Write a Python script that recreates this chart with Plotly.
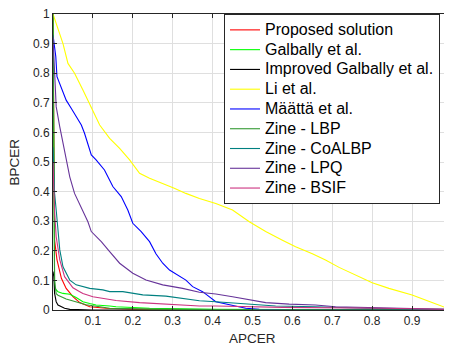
import plotly.graph_objects as go

# ---------------- data ----------------
names = ["Proposed solution", "Galbally et al.", "Improved Galbally et al.", "Li et al.",
         "Määttä et al.", "Zine - LBP", "Zine - CoALBP", "Zine - LPQ", "Zine - BSIF"]

prop_x = [0, 0.001, 0.002, 0.004, 0.01, 0.021, 0.033, 0.05, 0.067, 0.092, 0.133, 0.2, 0.4, 1.0]
prop_y = [1, 0.75, 0.4, 0.236, 0.169, 0.107, 0.073, 0.045, 0.025, 0.011, 0.006, 0.003, 0.001, 0]

galb_x = [0, 0.001, 0.002, 0.004, 0.008, 0.0125, 0.025, 0.042, 0.058, 0.075, 0.092, 0.108, 0.142, 0.158, 0.242, 0.4, 1.0]
galb_y = [1, 0.7, 0.3, 0.079, 0.068, 0.062, 0.056, 0.053, 0.042, 0.028, 0.022, 0.017, 0.0135, 0.011, 0.006, 0.002, 0]

impr_x = [0, 0.001, 0.002, 0.004, 0.008, 0.0125, 0.017, 0.029, 0.042, 0.1, 1.0]
impr_y = [0.13, 0.12, 0.1125, 0.056, 0.028, 0.017, 0.0135, 0.006, 0.002, 0, 0]

li_x = [0, 0.025, 0.0375, 0.054, 0.075, 0.096, 0.117, 0.142, 0.167, 0.192, 0.217, 0.242, 0.275, 0.304,
        0.333, 0.367, 0.408, 0.45, 0.492, 0.533, 0.575, 0.608, 0.65, 0.683, 0.717, 0.758, 0.8, 0.842,
        0.9, 0.95, 1.0]
li_y = [1, 0.90, 0.833, 0.80, 0.743, 0.681, 0.625, 0.58, 0.546, 0.507, 0.462, 0.445, 0.428, 0.411,
        0.394, 0.377, 0.36, 0.338, 0.298, 0.265, 0.236, 0.214, 0.19, 0.169, 0.144, 0.118, 0.092, 0.073,
        0.051, 0.025, 0.0]

maat_x = [0, 0.002, 0.007, 0.01, 0.021, 0.033, 0.046, 0.058, 0.071, 0.079, 0.0875, 0.096, 0.108, 0.129,
          0.15, 0.171, 0.1875, 0.2, 0.221, 0.242, 0.258, 0.275, 0.292, 0.3125, 0.333, 0.35, 0.375, 0.408,
          0.442, 0.483, 0.517, 0.6, 1.0]
maat_y = [0.93, 0.906, 0.856, 0.788, 0.749, 0.709, 0.681, 0.653, 0.625, 0.597, 0.557, 0.524, 0.507, 0.473,
          0.417, 0.383, 0.338, 0.293, 0.265, 0.231, 0.19, 0.158, 0.135, 0.118, 0.101, 0.079, 0.062, 0.028,
          0.017, 0.006, 0.002, 0.0, 0.0]

lbp_x = [0, 0.001, 0.002, 0.004, 0.008, 0.0125, 0.033, 0.058, 0.075, 0.083, 0.117, 0.142, 0.25, 0.5, 1.0]
lbp_y = [1, 0.6, 0.2, 0.101, 0.055, 0.05, 0.037, 0.028, 0.023, 0.018, 0.011, 0.006, 0.003, 0.001, 0]

coal_x = [0, 0.004, 0.008, 0.017, 0.025, 0.029, 0.042, 0.058, 0.075, 0.092, 0.125, 0.142, 0.175, 0.225,
          0.283, 0.342, 0.367, 0.408, 0.492, 0.558, 0.658, 0.783, 1.0]
coal_y = [0.55, 0.394, 0.338, 0.203, 0.146, 0.135, 0.101, 0.085, 0.079, 0.073, 0.068, 0.062, 0.062, 0.051,
          0.047, 0.036, 0.031, 0.028, 0.020, 0.0135, 0.011, 0.006, 0.002]

lpq_x = [0, 0.004, 0.008, 0.017, 0.025, 0.033, 0.042, 0.054, 0.071, 0.0875, 0.096, 0.121, 0.142, 0.167,
         0.2, 0.233, 0.275, 0.325, 0.367, 0.408, 0.45, 0.492, 0.533, 0.592, 0.658, 0.708, 0.783, 0.875, 1.0]
lpq_y = [0.92, 0.8, 0.687, 0.619, 0.563, 0.507, 0.45, 0.394, 0.343, 0.298, 0.265, 0.231, 0.197, 0.158,
         0.124, 0.101, 0.085, 0.073, 0.06, 0.054, 0.045, 0.034, 0.025, 0.020, 0.017, 0.011, 0.009, 0.006, 0.002]

bsif_x = [0, 0.004, 0.008, 0.017, 0.029, 0.046, 0.05, 0.067, 0.075, 0.1, 0.142, 0.158, 0.217, 0.283,
          0.367, 0.408, 0.575, 0.825, 1.0]
bsif_y = [0.5, 0.33, 0.248, 0.169, 0.1125, 0.079, 0.075, 0.062, 0.056, 0.045, 0.034, 0.032, 0.025, 0.020,
          0.0135, 0.0135, 0.009, 0.006, 0.002]

x_tick_vals = [0.1, 0.2, 0.3, 0.4, 0.5, 0.6, 0.7, 0.8, 0.9, 1.0]
x_tick_text = ["0.1", "0.2", "0.3", "0.4", "0.5", "0.6", "0.7", "0.8", "0.9", "1"]
y_tick_vals = [0, 0.1, 0.2, 0.3, 0.4, 0.5, 0.6, 0.7, 0.8, 0.9, 1.0]
y_tick_text = ["0", "0.1", "0.2", "0.3", "0.4", "0.5", "0.6", "0.7", "0.8", "0.9", "1"]

series = [(prop_x, prop_y), (galb_x, galb_y), (impr_x, impr_y), (li_x, li_y), (maat_x, maat_y),
          (lbp_x, lbp_y), (coal_x, coal_y), (lpq_x, lpq_y), (bsif_x, bsif_y)]
colors = ["#ff0000", "#00ff00", "#000000", "#ffff00", "#0000ff", "#339933", "#008080", "#663399", "#cc3380"]

# ---------------- figure ----------------
fig = go.Figure()
for name, (xs, ys), c in zip(names, series, colors):
    fig.add_trace(go.Scatter(x=xs, y=ys, mode="lines",
                             name='<span style="font-size:16px">' + name + '</span>',
                             line=dict(color=c, width=1.1)))

axis_common = dict(showline=True, linecolor="#262626", linewidth=1, mirror="ticks",
                   ticks="inside", ticklen=4, tickcolor="#262626", automargin=False,
                   ticklabeloverflow="allow",
                   showgrid=True, gridcolor="#dfdfdf", gridwidth=1, zeroline=False,
                   tickfont=dict(family="Liberation Sans, Arial, sans-serif", size=12, color="#262626"))

# page body has an 8px margin, so the figure is 8px smaller than the window
fig.update_layout(
    width=444, height=342,
    margin=dict(l=45, r=0, t=6, b=40),
    plot_bgcolor="white", paper_bgcolor="white",
    font=dict(family="Liberation Sans, Arial, sans-serif", color="#262626"),
    xaxis=dict(range=[0, 1], tickvals=x_tick_vals, ticktext=x_tick_text, **axis_common),
    yaxis=dict(range=[0, 1], tickvals=y_tick_vals, ticktext=y_tick_text, **axis_common),
    legend=dict(x=0.4286, y=1.0, xanchor="left", yanchor="top",
                bgcolor="white", bordercolor="#262626", borderwidth=1,
                font=dict(family="Liberation Sans, Arial, sans-serif", size=12.9, color="#000000"),
                itemwidth=30, tracegroupgap=0),
    showlegend=True,
    annotations=[
        dict(text="APCER", xref="paper", yref="paper", x=0.5, y=-0.0946, xanchor="center",
             yanchor="middle", showarrow=False, font=dict(size=13.5, color="#262626")),
        dict(text="BPCER", xref="paper", yref="paper", x=-0.0965, y=0.5, xanchor="center",
             yanchor="middle", textangle=-90, showarrow=False, font=dict(size=13.5, color="#262626")),
    ],
)

fig.write_html("out.html")
